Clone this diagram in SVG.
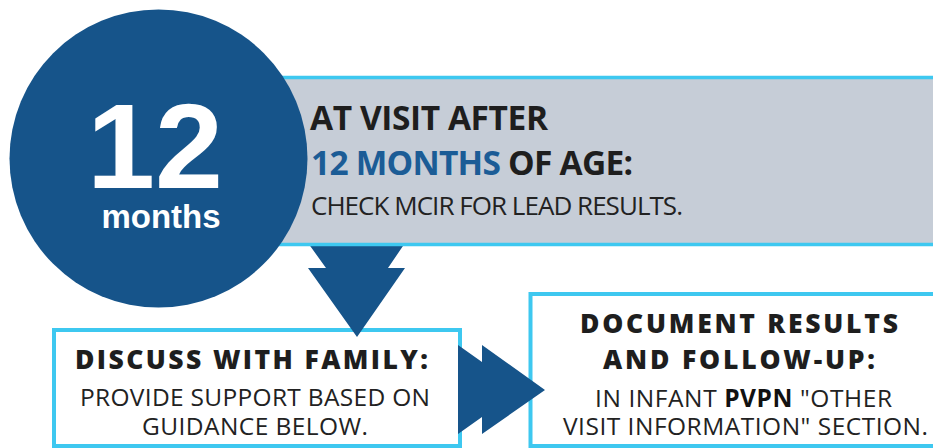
<svg xmlns="http://www.w3.org/2000/svg" width="933" height="448" viewBox="0 0 933 448">
  <style>
    .box { fill: #ffffff; stroke: #3ec8f0; stroke-width: 4; }
    .banner { fill: #c6cdd7; stroke: #3ec8f0; stroke-width: 3.5; }
    .arrow { fill: #16548a; }
    .hb { font-family: "Open Sans", "Liberation Sans", sans-serif; font-weight: 700; fill: #1e1e1e; }
    .hx { font-family: "Open Sans", "Liberation Sans", sans-serif; font-weight: 800; fill: #1e1e1e; }
    .hr { font-family: "Open Sans", "Liberation Sans", sans-serif; font-weight: 400; fill: #222222; }
    .blue { fill: #1b5c96; }
    .num { font-family: "Liberation Sans", Arial, sans-serif; font-weight: 700; fill: #ffffff; text-anchor: middle; }
  </style>
  <rect width="933" height="448" fill="#ffffff"/>

  <g id="discuss">
    <rect class="box" x="54" y="330" width="406" height="116"/>
    <text class="hx" x="75" y="369" font-size="26.5" textLength="353" lengthAdjust="spacing">DISCUSS WITH FAMILY:</text>
    <text class="hr" x="80" y="406" font-size="24.5" textLength="350" lengthAdjust="spacing">PROVIDE SUPPORT BASED ON</text>
    <text class="hr" x="142" y="435" font-size="24.5" textLength="226" lengthAdjust="spacing">GUIDANCE BELOW.</text>
  </g>

  <g id="document">
    <rect class="box" x="530.5" y="294" width="420" height="152"/>
    <text class="hx" x="580" y="333" font-size="26.5" textLength="318" lengthAdjust="spacing">DOCUMENT RESULTS</text>
    <text class="hx" x="603" y="369" font-size="26.5" textLength="272" lengthAdjust="spacing">AND FOLLOW-UP:</text>
    <text class="hr" x="595" y="407" font-size="24.5" textLength="297" lengthAdjust="spacing">IN INFANT <tspan font-weight="700" fill="#111111">PVPN</tspan> "OTHER</text>
    <text class="hr" x="563" y="435" font-size="24.5" textLength="365" lengthAdjust="spacing">VISIT INFORMATION" SECTION.</text>
  </g>

  <g id="connectors">
    <polygon class="arrow" points="308,243 405,243 388,268 405,268 357,337 308,268 326,268"/>
    <polygon class="arrow" points="458,345 482,362 482,345 545,390 482,434 482,417 458,434"/>
  </g>

  <g id="banner">
    <rect class="banner" x="200" y="77.5" width="760" height="167"/>
    <text class="hb" x="310" y="130" font-size="33.5" textLength="238" lengthAdjust="spacing">AT VISIT AFTER</text>
    <text class="hb" x="311" y="175" font-size="33.5" textLength="322" lengthAdjust="spacing"><tspan class="blue">12 MONTHS</tspan> OF AGE:</text>
    <text class="hr" x="311" y="215" font-size="26" textLength="372" lengthAdjust="spacing">CHECK MCIR FOR LEAD RESULTS.</text>
  </g>

  <g id="badge">
    <circle cx="158.5" cy="158.5" r="149" fill="#16548a"/>
    <text class="num" x="155" y="188" font-size="121" textLength="136" lengthAdjust="spacingAndGlyphs">12</text>
    <text class="num" x="161" y="228" font-size="33">months</text>
  </g>
</svg>
